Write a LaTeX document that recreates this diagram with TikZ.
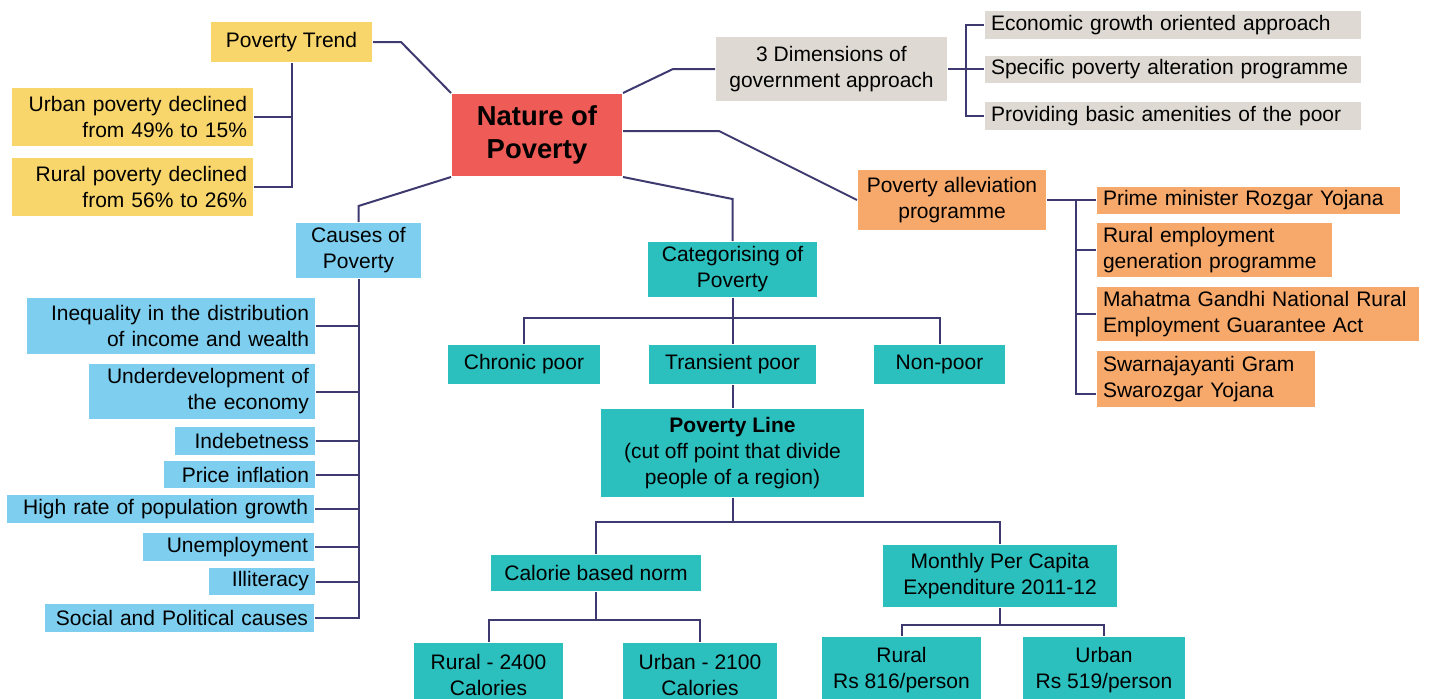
\documentclass[tikz,border=0pt]{standalone}
\usepackage{fontspec}
\setmainfont{Liberation Sans}
\usetikzlibrary{positioning}

\definecolor{linkcol}{RGB}{62,58,112}
\definecolor{trendcol}{RGB}{249,214,107}
\definecolor{rootcol}{RGB}{239,91,87}
\definecolor{dimcol}{RGB}{222,218,211}
\definecolor{progcol}{RGB}{247,169,107}
\definecolor{causecol}{RGB}{126,207,239}
\definecolor{catcol}{RGB}{43,191,189}

\tikzset{every picture/.style={line width=1pt}}
\tikzset{
  box/.style={inner xsep=3pt, inner ysep=0pt, text=black,
    font=\fontsize{10.5}{13}\selectfont,
    execute at begin node={\hyphenpenalty=10000}},
  trendbox/.style={box, fill=trendcol},
  rootbox/.style={box, fill=rootcol, font=\fontsize{13.7}{16.5}\selectfont\bfseries},
  dimbox/.style={box, fill=dimcol},
  progbox/.style={box, fill=progcol},
  causebox/.style={box, fill=causecol},
  catbox/.style={box, fill=catcol},
  link/.style={draw=linkcol, line width=1pt}
}

\begin{document}
\begin{tikzpicture}[x=0.5pt,y=0.5pt,yscale=-1,xscale=1]
\useasboundingbox (0,0) rectangle (1429,698);
\clip (0,0) rectangle (1429,698);

%Root
\node[rootbox, minimum width=85pt, minimum height=41pt, align=center] (nature) at (537,135) {Nature of\\Poverty};

%Poverty trend
\node[trendbox, minimum width=80.5pt, minimum height=20pt] (trend) at (291.5,42) {Poverty Trend};
\node[trendbox, text width=114.5pt, minimum height=29pt, align=right] (urban) at (132.5,117) {Urban poverty declined\\from 49\% to 15\%};
\node[trendbox, text width=114.5pt, minimum height=29pt, align=right] (rural) at (132.5,187) {Rural poverty declined\\from 56\% to 26\%};

%Government approach
\node[dimbox, minimum width=115.5pt, minimum height=32pt, align=center] (dims) at (831.5,69) {3 Dimensions of\\government approach};
\node[dimbox, text width=182pt, minimum height=14pt, align=left] (econ) at (1173,25) {Economic growth oriented approach};
\node[dimbox, text width=182pt, minimum height=13.5pt, align=left] (specific) at (1173,69) {Specific poverty alteration programme};
\node[dimbox, text width=182pt, minimum height=14pt, align=left] (providing) at (1173,116) {Providing basic amenities of the poor};

%Alleviation programmes
\node[progbox, minimum width=94pt, minimum height=30pt, align=center] (allev) at (952,200) {Poverty alleviation\\programme};
\node[progbox, text width=145.5pt, minimum height=13.5pt, align=left] (prime) at (1248.5,200) {Prime minister Rozgar Yojana};
\node[progbox, text width=111.5pt, minimum height=27pt, align=left] (ruralemp) at (1214.5,250) {Rural employment\\generation programme};
\node[progbox, text width=155pt, minimum height=27pt, align=left] (mahatma) at (1258,314) {Mahatma Gandhi National Rural\\Employment Guarantee Act};
\node[progbox, text width=103pt, minimum height=28pt, align=left] (swarna) at (1206,379) {Swarnajayanti Gram\\Swarozgar Yojana};

%Causes
\node[causebox, minimum width=62.5pt, minimum height=27.5pt, align=center] (causes) at (358.5,250.5) {Causes of\\Poverty};
\node[causebox, text width=138pt, minimum height=28pt, align=right] (ineq) at (171,326) {Inequality in the distribution\\of income and wealth};
\node[causebox, text width=107pt, minimum height=27.5pt, align=right] (under) at (202,391.5) {Underdevelopment of\\the economy};
\node[causebox, text width=64pt, minimum height=14pt, align=right] (indeb) at (245,441) {Indebetness};
\node[causebox, text width=69.5pt, minimum height=13.5pt, align=right] (price) at (239.5,474.5) {Price inflation};
\node[causebox, text width=147.5pt, minimum height=14pt, align=right] (high) at (160.5,509) {High rate of population growth};
\node[causebox, text width=79.5pt, minimum height=14pt, align=right] (unemp) at (228.5,547) {Unemployment};
\node[causebox, text width=47pt, minimum height=13.5pt, align=right] (illit) at (262,581.5) {Illiteracy};
\node[causebox, text width=128.5pt, minimum height=14pt, align=right] (social) at (179.5,618) {Social and Political causes};

%Categories
\node[catbox, minimum width=84.5pt, minimum height=27.5pt, align=center] (categ) at (732.5,269.5) {Categorising of\\Poverty};
\node[catbox, minimum width=76pt, minimum height=19.5pt] (chronic) at (524,364.5) {Chronic poor};
\node[catbox, minimum width=83.5pt, minimum height=19.5pt] (transient) at (732.5,364.5) {Transient poor};
\node[catbox, minimum width=65.5pt, minimum height=19.5pt] (nonpoor) at (939.5,364.5) {Non-poor};
\node[catbox, minimum width=131.5pt, minimum height=44pt, align=center] (pline) at (732.5,453) {\textbf{Poverty Line}\\(cut off point that divide\\people of a region)};
\node[catbox, minimum width=105pt, minimum height=18pt] (calorie) at (596,573) {Calorie based norm};
\node[catbox, minimum width=117pt, minimum height=31pt, align=center] (monthly) at (1000,576) {Monthly Per Capita\\Expenditure 2011-12};
\node[catbox, minimum width=74.5pt, minimum height=32pt, align=center] (rcal) at (488.5,675) {Rural - 2400\\Calories};
\node[catbox, minimum width=77pt, minimum height=32pt, align=center] (ucal) at (700,675) {Urban - 2100\\Calories};
\node[catbox, minimum width=79.5pt, minimum height=33pt, align=center] (rrs) at (901.5,670) {Rural\\Rs 816/person};
\node[catbox, minimum width=81pt, minimum height=33pt, align=center] (urs) at (1104,670) {Urban\\Rs 519/person};

%Links
\draw[link] (trend.east) -- ++(28,0) -- (nature.north west);
\draw[link] (trend.south) |- (rural.east);
\draw[link] (urban.east) -- (urban.east -| trend.south);
\draw[link] (dims.west) -- ++(-42,0) -- (nature.north east);
\draw[link] (dims.east) -- (specific.west);
\draw[link] (econ.west) -- ++(-18,0) |- (providing.west);
\draw[link] ([yshift=-2pt]nature.east) -- ++(96,0) -- (allev.west);
\draw[link] (allev.east) -- (prime.west);
\draw[link] (prime.west) -- ++(-20,0) |- ([yshift=7.5pt]swarna.west);
\draw[link] (ruralemp.west) -- ++(-20,0);
\draw[link] (mahatma.west) -- ++(-20,0);
\draw[link] (causes.north) -- ++(0,-16) -- (nature.south west);
\draw[link] (causes.south) |- (social.east);
\foreach \c in {ineq,under,indeb,price,high,unemp,illit}
  \draw[link] (\c.east) -- (\c.east -| causes.south);
\draw[link] (categ.north) -- ++(0,-42) -- (nature.south east);
\draw[link] (categ.south) -- (transient.north);
\draw[link] (chronic.north) -- ++(0,-26) -| (nonpoor.north);
\draw[link] (transient.south) -- (pline.north);
\draw[link] (pline.south) -- ++(0,24) coordinate (plfork);
\draw[link] (calorie.north) |- (plfork) -| (monthly.north);
\draw[link] (calorie.south) -- ++(0,28) coordinate (calfork);
\draw[link] (rcal.north) |- (calfork) -| (ucal.north);
\draw[link] (monthly.south) -- ++(0,17) coordinate (mpcfork);
\draw[link] (rrs.north) |- (mpcfork) -| (urs.north);

\end{tikzpicture}
\end{document}
